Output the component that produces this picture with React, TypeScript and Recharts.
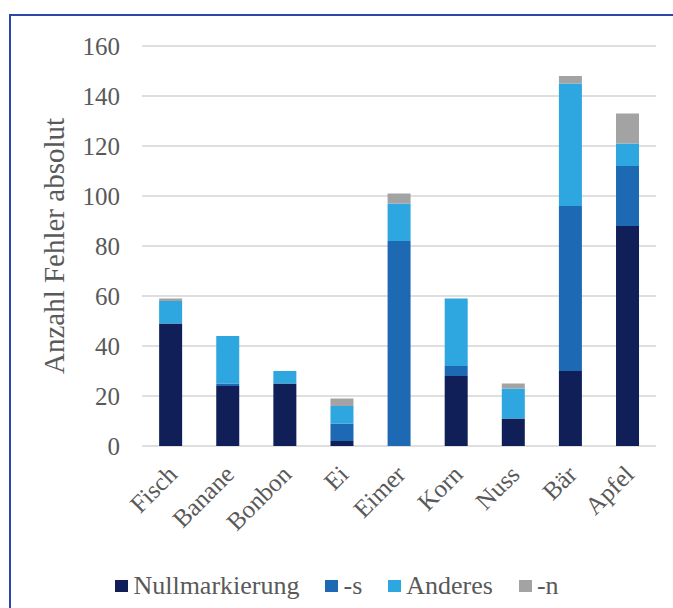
import React from 'react'
import { BarChart, Bar, XAxis, YAxis, CartesianGrid, Legend } from 'recharts'

const words = ['Fisch', 'Banane', 'Bonbon', 'Ei', 'Eimer', 'Korn', 'Nuss', 'Bär', 'Apfel']
const nullmarkierung = [49, 24, 25, 2, 0, 28, 11, 30, 88]
const sPlural = [0, 1, 0, 7, 82, 4, 0, 66, 24]
const anderes = [9, 19, 5, 7, 15, 27, 12, 49, 9]
const nPlural = [1, 0, 0, 3, 4, 0, 2, 3, 12]
const yTicks = [0, 20, 40, 60, 80, 100, 120, 140, 160]

const series = [
  { key: 'null', name: 'Nullmarkierung', color: '#111f58' },
  { key: 's', name: '-s', color: '#1e69b3' },
  { key: 'anderes', name: 'Anderes', color: '#2ea6df' },
  { key: 'n', name: '-n', color: '#a3a3a3' },
]

const data = words.map((word, i) => ({
  word,
  null: nullmarkierung[i],
  s: sPlural[i],
  anderes: anderes[i],
  n: nPlural[i],
}))

const FONT = '"Liberation Serif", "Times New Roman", serif'
const TEXT = '#595959'

function CategoryTick({ x, y, payload }: any) {
  return (
    <text
      x={x + 8}
      y={y + 22}
      transform={`rotate(-45, ${x + 8}, ${y + 22})`}
      textAnchor="end"
      fontFamily={FONT}
      fontSize={25}
      fill={TEXT}
    >
      {payload.value}
    </text>
  )
}

function AxisTitle({ viewBox }: any) {
  const cx = viewBox.x + 54
  const cy = viewBox.y + viewBox.height / 2
  return (
    <text
      x={cx}
      y={cy}
      transform={`rotate(-90, ${cx}, ${cy})`}
      textAnchor="middle"
      dominantBaseline="central"
      fontFamily={FONT}
      fontSize={29}
      fill={TEXT}
    >
      Anzahl Fehler absolut
    </text>
  )
}

// legend keeps the series order instead of the reversed stack order
function LegendRow() {
  return (
    <div style={{ display: 'flex', justifyContent: 'center', alignItems: 'center', paddingLeft: 27 }}>
      {series.map(item => (
        <div key={item.key} style={{ display: 'flex', alignItems: 'center', marginRight: 26 }}>
          <span style={{ width: 13, height: 12, background: item.color, marginRight: 5 }} />
          <span style={{ fontFamily: FONT, fontSize: 26, color: TEXT, lineHeight: '30px' }}>{item.name}</span>
        </div>
      ))}
    </div>
  )
}

export default function App() {
  return (
    <div style={{ position: 'fixed', left: 0, top: 0, width: 673, height: 608, background: '#fff' }}>
      <div
        style={{
          position: 'absolute', left: 9, top: 14, right: 0, bottom: 0,
          borderTop: '2px solid #2e46a8', borderLeft: '2px solid #2e46a8',
        }}
      />
      <BarChart
        width={673}
        height={608}
        data={data}
        margin={{ top: 46, right: 17, left: 0, bottom: 0 }}
        barCategoryGap="30%"
      >
        <CartesianGrid vertical={false} stroke="#d4d4d4" strokeWidth={1.5} />
        <XAxis
          dataKey="word"
          axisLine={false}
          tickLine={false}
          height={132}
          interval={0}
          tick={<CategoryTick />}
        />
        <YAxis
          width={142}
          domain={[0, 160]}
          ticks={yTicks}
          axisLine={false}
          tickLine={false}
          tickSize={0}
          tickMargin={22}
          tick={{ fontFamily: FONT, fontSize: 25, fill: TEXT }}
          label={{ content: <AxisTitle /> }}
        />
        <Legend
          verticalAlign="bottom"
          content={<LegendRow />}
          wrapperStyle={{ top: 571, left: 0, width: 673 }}
        />
        {series.map(s => (
          <Bar key={s.key} dataKey={s.key} name={s.name} stackId="a" fill={s.color} isAnimationActive={false} />
        ))}
      </BarChart>
    </div>
  )
}
